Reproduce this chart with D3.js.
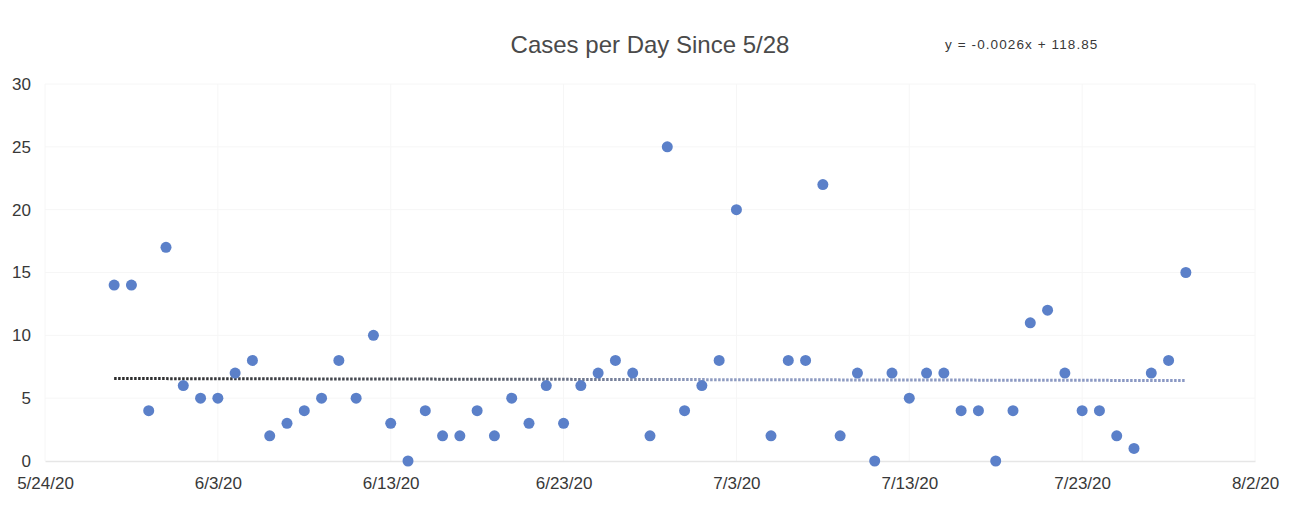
<!DOCTYPE html>
<html>
<head>
<meta charset="utf-8">
<script src="https://cdn.jsdelivr.net/npm/d3@7"></script>
<style>
  body { margin: 0; background: #fff; }
  text { font-family: "Liberation Sans", Arial, sans-serif; }
</style>
</head>
<body>
<svg id="chart"></svg>
<script>
// daily cases, 5/28 to 7/29 (no value on 7/4)
let dates = [
  "5/28/20","5/29/20","5/30/20","5/31/20","6/1/20","6/2/20","6/3/20","6/4/20","6/5/20","6/6/20",
  "6/7/20","6/8/20","6/9/20","6/10/20","6/11/20","6/12/20","6/13/20","6/14/20","6/15/20","6/16/20",
  "6/17/20","6/18/20","6/19/20","6/20/20","6/21/20","6/22/20","6/23/20","6/24/20","6/25/20","6/26/20",
  "6/27/20","6/28/20","6/29/20","6/30/20","7/1/20","7/2/20","7/3/20",
  "7/5/20","7/6/20","7/7/20","7/8/20","7/9/20","7/10/20","7/11/20","7/12/20","7/13/20","7/14/20",
  "7/15/20","7/16/20","7/17/20","7/18/20","7/19/20","7/20/20","7/21/20","7/22/20","7/23/20","7/24/20",
  "7/25/20","7/26/20","7/27/20","7/28/20","7/29/20"
];
let cases = [
  14, 14, 4, 17, 6, 5, 5, 7, 8, 2,
  3, 4, 5, 8, 5, 10, 3, 0, 4, 2,
  2, 4, 2, 5, 3, 6, 3, 6, 7, 8,
  7, 2, 25, 4, 6, 8, 20,
  2, 8, 8, 22, 2, 7, 0, 7, 5, 7,
  7, 4, 4, 0, 4, 11, 12, 7, 4, 4,
  2, 1, 7, 8, 15
];
let xTickLabels = ["5/24/20","6/3/20","6/13/20","6/23/20","7/3/20","7/13/20","7/23/20","8/2/20"];
let yTicks = [0, 5, 10, 15, 20, 25, 30];

let chartTitle = "Cases per Day Since 5/28";
let equationText = "y = -0.0026x + 118.85";

let svgWidth = 1306;
let svgHeight = 508;

let margin = { top: 84, right: 51, bottom: 47, left: 45 };
let width = svgWidth - margin.left - margin.right;
let height = svgHeight - margin.top - margin.bottom;

let parseDate = d3.timeParse("%m/%d/%y");
let fmtDate = d3.timeFormat("%-m/%-d/%y");

let points = dates.map((d, i) => ({ date: parseDate(d), value: cases[i] }));
let tickDates = xTickLabels.map(parseDate);

let svg = d3.select("#chart")
  .attr("width", svgWidth)
  .attr("height", svgHeight);

let chartGroup = svg.append("g")
  .attr("transform", `translate(${margin.left}, ${margin.top})`);

let xScale = d3.scaleTime()
  .domain([tickDates[0], tickDates[tickDates.length - 1]])
  .range([0, width]);

let yScale = d3.scaleLinear()
  .domain([0, 30])
  .range([height, 0]);

// very faint gridlines
chartGroup.append("g")
  .selectAll("line.hgrid")
  .data(yTicks.slice(1))
  .enter()
  .append("line")
  .attr("x1", 0)
  .attr("x2", width)
  .attr("y1", d => yScale(d))
  .attr("y2", d => yScale(d))
  .attr("stroke", "#f6f6f6")
  .attr("stroke-width", 1);

chartGroup.append("g")
  .selectAll("line.vgrid")
  .data(tickDates)
  .enter()
  .append("line")
  .attr("x1", d => xScale(d))
  .attr("x2", d => xScale(d))
  .attr("y1", 0)
  .attr("y2", height)
  .attr("stroke", "#f6f6f6")
  .attr("stroke-width", 1);

// x axis
let bottomAxis = d3.axisBottom(xScale)
  .tickValues(tickDates)
  .tickFormat(fmtDate)
  .tickSize(0)
  .tickPadding(16);

let xAxis = chartGroup.append("g")
  .attr("transform", `translate(0, ${height})`)
  .call(bottomAxis);
xAxis.select(".domain").attr("stroke", "#e6e6e6").attr("stroke-width", 1.5);
xAxis.selectAll("text")
  .attr("fill", "#383838")
  .style("font-size", "17px");

// y axis (labels only)
let leftAxis = d3.axisLeft(yScale)
  .tickValues(yTicks)
  .tickSize(0)
  .tickPadding(14);

let yAxis = chartGroup.append("g").call(leftAxis);
yAxis.select(".domain").remove();
yAxis.selectAll("text")
  .attr("fill", "#383838")
  .style("font-size", "17px");

// linear trendline, least squares
let xs = points.map(p => +p.date);
let ys = points.map(p => p.value);
let mx = d3.mean(xs);
let my = d3.mean(ys);
let slope = d3.sum(xs, (x, i) => (x - mx) * (ys[i] - my)) / d3.sum(xs, x => (x - mx) * (x - mx));
let intercept = my - slope * mx;
let trendEnds = [points[0].date, points[points.length - 1].date];

let grad = svg.append("defs").append("linearGradient")
  .attr("id", "trendGrad")
  .attr("gradientUnits", "userSpaceOnUse")
  .attr("x1", xScale(trendEnds[0]))
  .attr("x2", xScale(trendEnds[1]))
  .attr("y1", 0)
  .attr("y2", 0);
grad.append("stop").attr("offset", "0%").attr("stop-color", "#2b2b2b");
grad.append("stop").attr("offset", "35%").attr("stop-color", "#555a66");
grad.append("stop").attr("offset", "55%").attr("stop-color", "#8e9bc0");
grad.append("stop").attr("offset", "100%").attr("stop-color", "#8a98c4");

chartGroup.append("line")
  .attr("x1", xScale(trendEnds[0]))
  .attr("x2", xScale(trendEnds[1]))
  .attr("y1", yScale(slope * +trendEnds[0] + intercept))
  .attr("y2", yScale(slope * +trendEnds[1] + intercept))
  .attr("stroke", "url(#trendGrad)")
  .attr("stroke-width", 3)
  .attr("stroke-dasharray", "2.5,1.5");

// points
chartGroup.selectAll("circle")
  .data(points)
  .enter()
  .append("circle")
  .attr("cx", d => xScale(d.date))
  .attr("cy", d => yScale(d.value))
  .attr("r", 5.5)
  .attr("fill", "#5b80c9");

// title and equation
svg.append("text")
  .attr("x", 650)
  .attr("y", 53)
  .attr("text-anchor", "middle")
  .attr("fill", "#4a4a4a")
  .style("font-size", "24px")
  .text(chartTitle);

svg.append("text")
  .attr("x", 945)
  .attr("y", 49)
  .attr("fill", "#383838")
  .style("font-size", "13.5px")
  .style("letter-spacing", "1.1px")
  .text(equationText);
</script>
</body>
</html>
